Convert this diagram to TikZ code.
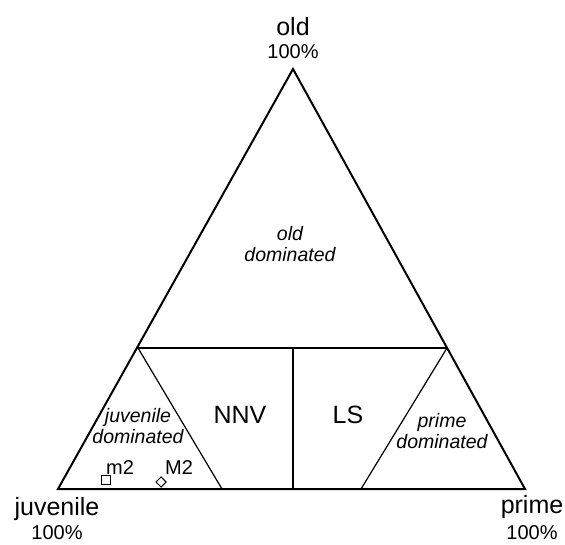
\documentclass[tikz,border=0pt]{standalone}
\usepackage{fontspec}
\setmainfont{Liberation Sans}
\usetikzlibrary{shapes.geometric}

\begin{document}
\begin{tikzpicture}[x=1pt, y=-1pt, every node/.style={align=center, inner sep=0pt},
    corner/.style={font=\fontsize{25}{27}\selectfont},
    pct/.style={font=\fontsize{20}{22}\selectfont},
    region/.style={font=\fontsize{25}{27}\selectfont},
    dom/.style={font=\fontsize{19.5}{21}\selectfont\itshape},
    tag/.style={font=\fontsize{20}{22}\selectfont}]
      \useasboundingbox (0,0) rectangle (565,545);
      % corners of the ternary plot
      \coordinate (J) at (58,489);
      \coordinate (P) at (525,489);
      \coordinate (O) at (293,69);
      \coordinate (L) at (138,348);
      \coordinate (R) at (447,348);
      \coordinate (M) at (293,348);
      \coordinate (Jb) at (222,489);
      \coordinate (Mb) at (293,489);
      \coordinate (Pb) at (361,489);
      \draw[line width=2pt] (J) -- (O) -- (P) -- cycle;
      \draw[line width=1.2pt] (L) -- (R);
      \draw[line width=1.2pt] (L) -- (Jb);
      \draw[line width=1.2pt] (M) -- (Mb);
      \draw[line width=1.2pt] (R) -- (Pb);
      % labels
      \node[corner] (old) at (293,27) {old};
      \node[pct] (oldp) at (293,52) {100\%};
      \node[corner] (juv) at (57,509) {juvenile};
      \node[pct] (juvp) at (57,533) {100\%};
      \node[corner] (pri) at (532,507) {prime};
      \node[pct] (prip) at (532,533) {100\%};
      \node[dom] (odom) at (290,244) {old\\dominated};
      \node[dom] (jdom) at (138,426) {juvenile\\dominated};
      \node[dom] (pdom) at (442,431) {prime\\dominated};
      \node[region] (nnv) at (240,415) {NNV};
      \node[region] (ls) at (348,415) {LS};
      % samples
      \node[draw, line width=1pt, minimum size=8.5pt] (m2) at (106,480) {};
      \node[tag] (m2l) at (120,468) {m2};
      \node[draw, diamond, line width=1pt, minimum size=10.5pt] (M2) at (161,482) {};
      \node[tag] (M2l) at (179,468) {M2};
    \end{tikzpicture}
\end{document}
